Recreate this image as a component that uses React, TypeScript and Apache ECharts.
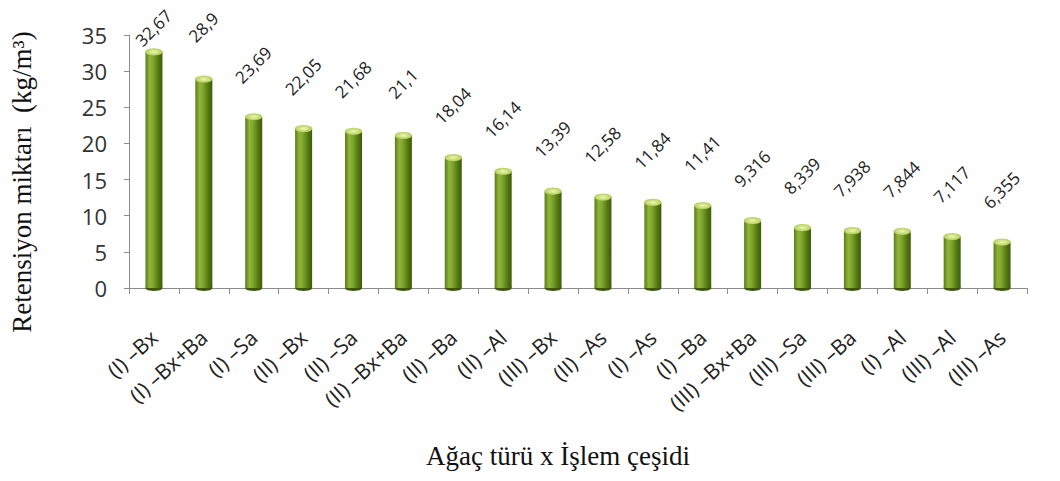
import React, { useEffect, useRef } from "react";
import * as echarts from "echarts";

const categories = [
  "(I) –Bx", "(I) –Bx+Ba", "(I) –Sa", "(II) –Bx", "(II) –Sa", "(II) –Bx+Ba",
  "(II) –Ba", "(II) –Al", "(III) –Bx", "(II) –As", "(I) –As", "(I) –Ba",
  "(III) –Bx+Ba", "(III) –Sa", "(III) –Ba", "(I) –Al", "(III) –Al", "(III) –As",
];
const values = [
  32.67, 28.9, 23.69, 22.05, 21.68, 21.1, 18.04, 16.14, 13.39, 12.58, 11.84,
  11.41, 9.316, 8.339, 7.938, 7.844, 7.117, 6.355,
];
const yTicks = [0, 5, 10, 15, 20, 25, 30, 35];
const yTitle = "Retensiyon miktarı  (kg/m³)";
const xTitle = "Ağaç türü x İşlem çeşidi";

export default function App() {
  const ref = useRef<HTMLDivElement>(null);
  useEffect(() => {
    if (!ref.current) return;
    const chart = echarts.init(ref.current, null, { renderer: "svg" });
    const bodyColor = new echarts.graphic.LinearGradient(0, 0, 1, 0, [
      { offset: 0, color: "#5a7d16" },
      { offset: 0.25, color: "#90b43c" },
      { offset: 0.45, color: "#7fa72c" },
      { offset: 0.75, color: "#557a12" },
      { offset: 1, color: "#3d5a0a" },
    ]);
    const barData = values.map((v, i) =>
      i === 0 ? { value: v, label: { position: [8, -24] } } : v
    );
    chart.setOption({
      animation: false,
      backgroundColor: "#ffffff",
      grid: { left: 129, right: 33, top: 35, bottom: 193 },
      xAxis: {
        type: "category",
        data: categories,
        boundaryGap: true,
        axisLine: { lineStyle: { color: "#8c8c8c", width: 1 } },
        axisTick: { show: true, alignWithLabel: false, length: 6, lineStyle: { color: "#8c8c8c" } },
        axisLabel: {
          interval: 0,
          rotate: 42,
          margin: 46,
          fontFamily: "Open Sans",
          fontSize: 21,
          color: "#222",
        },
      },
      yAxis: {
        type: "value",
        min: yTicks[0],
        max: yTicks[yTicks.length - 1],
        interval: 5,
        splitLine: { show: false },
        axisLine: { show: true, lineStyle: { color: "#8c8c8c" } },
        axisTick: { show: true, length: 5, lineStyle: { color: "#8c8c8c" } },
        axisLabel: {
          fontFamily: "Open Sans",
          fontSize: 22,
          color: "#333",
          margin: 22,
        },
      },
      graphic: [
        {
          type: "text",
          x: 22,
          y: 182,
          rotation: Math.PI / 2,
          style: {
            text: yTitle,
            fontFamily: "Liberation Serif",
            fontSize: 27,
            fill: "#111",
            align: "center",
            verticalAlign: "middle",
          },
        },
        {
          type: "text",
          x: 558,
          y: 456,
          style: {
            text: xTitle,
            fontFamily: "Liberation Serif",
            fontSize: 27,
            fill: "#111",
            align: "center",
            verticalAlign: "middle",
          },
        },
      ],
      series: [
        {
          type: "bar",
          data: barData,
          barWidth: 17,
          barGap: "-100%",
          itemStyle: { color: bodyColor },
          label: {
            show: true,
            position: [8, -52],
            rotate: 45,
            align: "center",
            verticalAlign: "middle",
            fontFamily: "Open Sans",
            fontSize: 17,
            color: "#222",
            formatter: (p: any) => String(p.value).replace(".", ","),
          },
          z: 2,
        },
        {
          type: "pictorialBar",
          data: values,
          symbol: "circle",
          symbolSize: [17, 7],
          symbolPosition: "end",
          symbolOffset: [0, "-50%"],
          barGap: "-100%",
          itemStyle: {
            color: new echarts.graphic.RadialGradient(0.5, 0.5, 0.6, [
              { offset: 0, color: "#eef7b0" },
              { offset: 1, color: "#a6c64a" },
            ]),
          },
          z: 3,
          silent: true,
        },
        {
          type: "pictorialBar",
          data: values,
          symbol: "circle",
          symbolSize: [17, 6],
          symbolPosition: "start",
          symbolOffset: [0, "50%"],
          barGap: "-100%",
          itemStyle: { color: "#3e550f" },
          z: 1,
          silent: true,
        },
      ],
    });
    return () => chart.dispose();
  }, []);
  return (
    <div
      ref={ref}
      style={{ position: "absolute", left: 0, top: 0, width: 1060, height: 481 }}
    />
  );
}
